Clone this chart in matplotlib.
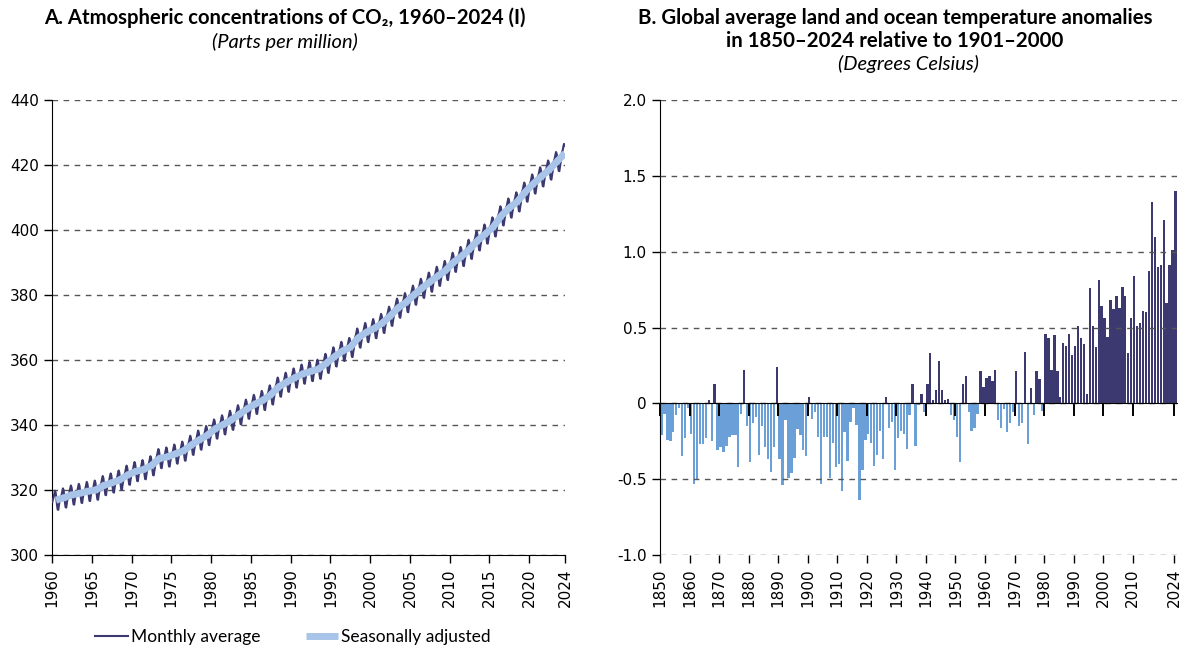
import numpy as np
import matplotlib.pyplot as plt

plt.rcParams['axes.unicode_minus'] = False
plt.rcParams['font.size'] = 11

# --- panel A: Mauna Loa CO2 (ppm) ---
co2_years = list(range(1960, 2025))
co2_annual = [316.9, 317.6, 318.5, 319.0, 319.6, 320.0, 321.4, 322.2, 323.1, 324.6,
              325.7, 326.3, 327.5, 329.7, 330.2, 331.1, 332.0, 333.8, 335.4, 336.8,
              338.8, 340.1, 341.5, 343.2, 344.9, 346.4, 347.6, 349.3, 351.7, 353.2,
              354.5, 355.7, 356.5, 357.2, 359.0, 361.0, 362.7, 363.9, 366.8, 368.5,
              369.7, 371.3, 373.5, 376.0, 377.7, 380.0, 382.1, 384.0, 385.8, 387.6,
              390.1, 391.9, 394.1, 396.7, 398.8, 401.0, 404.4, 406.8, 408.7, 411.7,
              414.2, 416.4, 418.5, 421.1, 423.6]
# seasonal swing around the yearly level, Jan..Dec
co2_season = [-0.6, 0.3, 0.9, 2.0, 2.9, 2.3, 0.7, -1.4, -2.9, -3.0, -1.5, -0.3]
co2_months_2024 = 6  # last year shown up to June

# --- panel B: temperature anomaly vs 1901-2000 (deg C) ---
temp_years = list(range(1850, 2025))
temp_anom = [
    -0.21, -0.07, -0.24, -0.25, -0.19, -0.08, -0.03, -0.35, -0.23, -0.03,
    -0.20, -0.53, -0.50, -0.27, -0.27, -0.23, 0.02, -0.25, 0.13, -0.31,
    -0.29, -0.32, -0.28, -0.22, -0.21, -0.21, -0.42, -0.07, 0.22, -0.15,
    -0.39, -0.13, -0.09, -0.34, -0.15, -0.29, -0.37, -0.45, -0.29, 0.24,
    -0.37, -0.54, -0.11, -0.49, -0.46, -0.36, -0.17, -0.21, -0.31, -0.35,
    0.04, -0.10, -0.06, -0.22, -0.53, -0.22, -0.22, -0.49, -0.26, -0.42,
    -0.40, -0.58, -0.19, -0.38, -0.12, -0.03, -0.14, -0.64, -0.44, -0.24,
    -0.20, -0.26, -0.41, -0.34, -0.18, -0.37, 0.04, -0.16, -0.12, -0.44,
    -0.23, -0.18, -0.20, -0.30, -0.08, 0.13, -0.28, -0.01, 0.06, -0.06,
    0.13, 0.33, 0.02, 0.09, 0.28, 0.09, 0.02, 0.03, -0.08, -0.11,
    -0.22, -0.39, 0.13, 0.18, -0.06, -0.18, -0.16, -0.07, 0.21, 0.11,
    0.17, 0.18, 0.15, 0.22, -0.11, -0.16, -0.04, -0.19, -0.13, -0.06,
    0.21, -0.15, -0.13, 0.34, -0.27, 0.10, -0.08, 0.21, 0.16, -0.05,
    0.46, 0.43, 0.22, 0.45, 0.21, 0.04, 0.40, 0.38, 0.46, 0.32,
    0.38, 0.51, 0.43, 0.39, 0.06, 0.76, 0.51, 0.37, 0.81, 0.64,
    0.56, 0.44, 0.68, 0.62, 0.71, 0.63, 0.77, 0.71, 0.33, 0.56,
    0.84, 0.51, 0.53, 0.61, 0.60, 0.87, 1.33, 1.10, 0.90, 0.91,
    1.21, 0.66, 0.91, 1.01, 1.40]

co2_ticks = [1960, 1965, 1970, 1975, 1980, 1985, 1990, 1995, 2000, 2005, 2010, 2015, 2020]
temp_ticks = [1850, 1860, 1870, 1880, 1890, 1900, 1910, 1920, 1930, 1940, 1950,
              1960, 1970, 1980, 1990, 2000, 2010, 2024]

navy = '#3b3970'
light = '#a9c4e9'
negblue = '#6a9fd8'
gridc = '#555555'
title_font = ['Lato', 'DejaVu Sans']

# build the monthly series
t_month, v_month = [], []
for y, base in zip(co2_years, co2_annual):
    n = co2_months_2024 if y == 2024 else 12
    for m in range(n):
        t_month.append(y + (m + 0.5) / 12)
        v_month.append(base + co2_season[m])
t_month = np.array(t_month)

fig = plt.figure(figsize=(11.82, 6.47), dpi=100)
ax1 = fig.add_axes([52 / 1182, 1 - 555 / 647, 513 / 1182, 455 / 647])
ax2 = fig.add_axes([660 / 1182, 1 - 555 / 647, 517 / 1182, 455 / 647])

# ---- A ----
l1, = ax1.plot(t_month, v_month, color=navy, lw=1.5, label='Monthly average', zorder=3)
l2, = ax1.plot(np.array(co2_years) + 0.5, co2_annual, color=light, lw=5,
               solid_capstyle='butt', label='Seasonally adjusted', zorder=4)
ax1.set_xlim(1960, t_month[-1] + 1 / 24)
ax1.set_ylim(300, 440)
ax1.set_yticks(range(300, 441, 20))
ax1.set_xticks(co2_ticks + [t_month[-1] + 1 / 24])
ax1.set_xticklabels([str(t) for t in co2_ticks] + ['2024'], rotation=90)
ax1.yaxis.grid(True, linestyle=(0, (4, 4)), color=gridc, lw=1)
ax1.set_axisbelow(True)
for s in ['top', 'right']:
    ax1.spines[s].set_visible(False)
ax1.tick_params(length=6, width=1, labelsize=11)

# ---- B ----
ta = np.array(temp_anom)
cols = [navy if v > 0 else negblue for v in ta]
ax2.bar(np.array(temp_years) + 0.5, ta, width=0.8, color=cols, linewidth=0, zorder=1)
ax2.set_xlim(1850, 2025)
ax2.set_ylim(-1.0, 2.0)
ax2.set_yticks(np.arange(-1.0, 2.01, 0.5))
ax2.set_yticklabels(['0' if abs(v) < 1e-9 else f'{v:.1f}' for v in np.arange(-1.0, 2.01, 0.5)])
ax2.yaxis.grid(True, linestyle=(0, (4, 4)), color=gridc, lw=1)
ax2.set_axisbelow(False)
for s in ['top', 'right']:
    ax2.spines[s].set_visible(False)
ax2.spines['bottom'].set_position(('data', 0))
ax2.spines['bottom'].set_zorder(3)
ax2.set_xticks(temp_ticks)
ax2.tick_params(axis='x', labelbottom=False, length=9, width=1.4)
ax2.tick_params(axis='y', length=6, width=1, labelsize=11)
sec = ax2.secondary_xaxis(0.0)
sec.spines['bottom'].set_visible(False)
sec.set_xticks(temp_ticks)
sec.set_xticklabels([str(t) for t in temp_ticks], rotation=90)
sec.tick_params(length=6, width=1, labelsize=11)

# ---- titles ----
fig.text(285 / 1182, 1 - 18 / 647, 'A. Atmospheric concentrations of CO\u2082, 1960\u20132024 (I)',
         ha='center', va='center', fontsize=14.6, fontweight='bold', family=title_font)
fig.text(285 / 1182, 1 - 42 / 647, '(Parts per million)', ha='center', va='center',
         fontsize=14.5, style='italic', family=title_font)
fig.text(895 / 1182, 1 - 18 / 647, 'B. Global average land and ocean temperature anomalies',
         ha='center', va='center', fontsize=14.7, fontweight='bold', family=title_font)
fig.text(895 / 1182, 1 - 41 / 647, 'in 1850\u20132024 relative to 1901\u20132000',
         ha='center', va='center', fontsize=14.7, fontweight='bold', family=title_font)
fig.text(908 / 1182, 1 - 64 / 647, '(Degrees Celsius)', ha='center', va='center',
         fontsize=14.5, style='italic', family=title_font)

fig.legend(handles=[l1, l2], loc='center', bbox_to_anchor=(293 / 1182, 1 - 637 / 647),
           ncol=2, frameon=False, handlelength=1.9, handletextpad=0.15, columnspacing=2.6,
           prop={'family': title_font, 'size': 12.5})

fig.savefig('out.png', dpi=100)
